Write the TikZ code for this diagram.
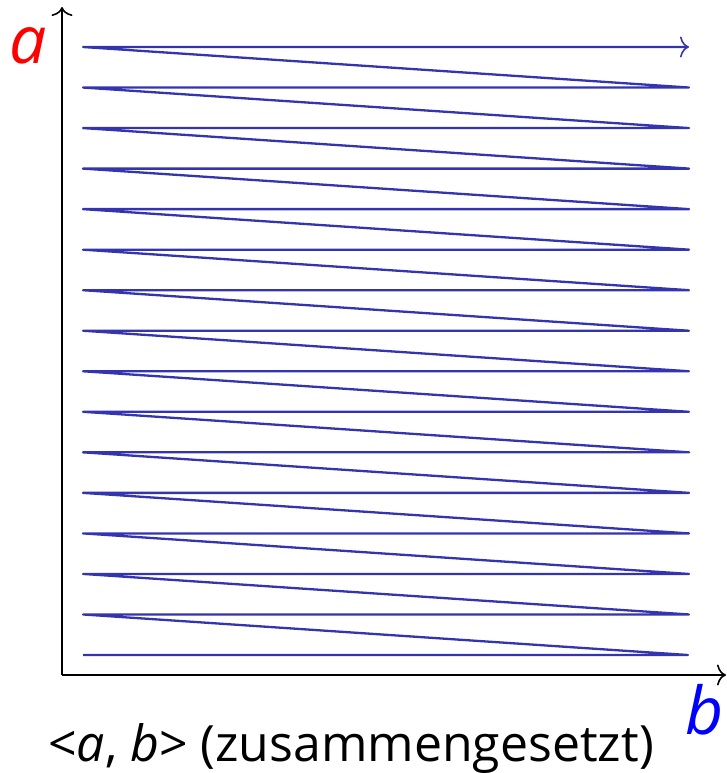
\documentclass[tikz,border=0pt]{standalone}
\usepackage{fontspec}
\setmainfont{Open Sans}
\usetikzlibrary{arrows.meta}
\definecolor{zig}{RGB}{52,52,176}
\tikzset{
  tip/.style={-{To[length=9pt,width=21pt,line width=1.6pt]}},
  axis/.style={line width=2pt, tip},
  zigline/.style={zig, line width=2.3pt, line join=round},
  lbl/.style={inner sep=0pt, anchor=base}
}
\begin{document}
\begin{tikzpicture}[x=1pt,y=-1pt]
\useasboundingbox (0,0) rectangle (727,773);
\coordinate (O) at (62,675);
\coordinate (Ytop) at (62,7);
\coordinate (Xend) at (726,675);
\draw[axis] (O) -- (Ytop);
\draw[axis] (O) -- (Xend);
% zigzag path
\def\ytop{47}
\def\ybot{655}
\pgfmathsetmacro{\dy}{(\ybot-\ytop)/15}
\draw[zigline, tip]
  (83,\ybot) -- (688,\ybot)
  \foreach \i in {14,13,...,0} {
    -- (83,{\ytop+\i*\dy}) -- (689,{\ytop+\i*\dy})
  };
\node[lbl, text=red, font=\fontsize{66}{66}\selectfont\itshape] (la) at (28,64) {a};
\node[lbl, text=blue, font=\fontsize{66}{66}\selectfont\itshape] (lb) at (705,734) {b};
\node[lbl, font=\fontsize{50}{50}\selectfont] (cap) at (351,761) {<\textit{a}, \textit{b}> (zusammengesetzt)};
\end{tikzpicture}
\end{document}
